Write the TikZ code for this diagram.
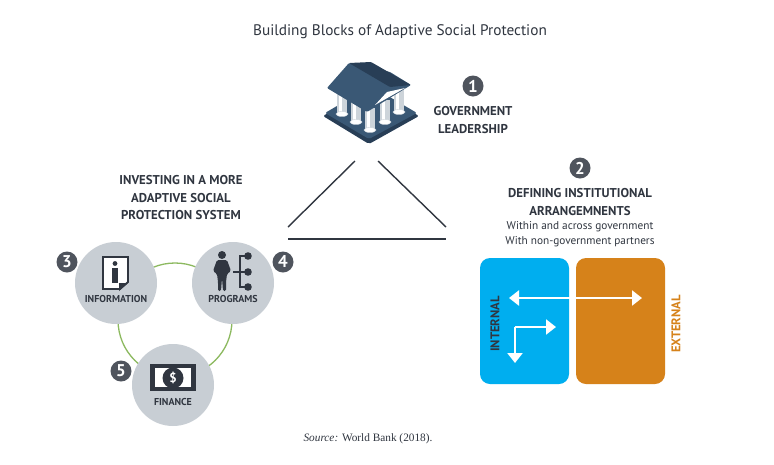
\documentclass[tikz,border=0pt]{standalone}
\usepackage{fontspec}
\setmainfont{Liberation Serif}
\newfontfamily\din{PT Sans}
\usetikzlibrary{arrows.meta,calc}
\definecolor{slate}{RGB}{48,54,64}
\definecolor{mist}{RGB}{200,206,212}
\definecolor{leaf}{RGB}{140,185,95}
\definecolor{sky}{RGB}{0,174,239}
\definecolor{rust}{RGB}{214,130,26}
\definecolor{roof}{RGB}{58,88,117}
\definecolor{roofdark}{RGB}{40,62,86}
\definecolor{pillar}{RGB}{205,212,218}
\tikzset{
  head/.style={font=\din\bfseries\fontsize{12.8}{17.5}\selectfont,text=slate,align=center,inner sep=0pt},
  subhead/.style={font=\din\fontsize{11.3}{15}\selectfont,text=slate,align=center,inner sep=0pt},
  badge/.style={circle,fill=slate!85!white,text=white,font=\din\bfseries\fontsize{17}{17}\selectfont,minimum size=21,inner sep=0pt},
  hub/.style={circle,fill=mist,minimum size=82,inner sep=0pt},
  hublabel/.style={font=\din\bfseries\fontsize{10}{10}\selectfont,text=slate,inner sep=0pt},
  panel/.style={rounded corners=10,minimum width=89,minimum height=126,inner sep=0pt},
  flow/.style={draw=white,line width=2.4,-{Triangle[length=10,width=15]}},
  rule/.style={draw=slate,line width=1.4},
}
\begin{document}
\begin{tikzpicture}[x=1pt,y=-1pt]
  \useasboundingbox[fill=white] (0,0) rectangle (774,464);
  \node[font=\din\fontsize{15.3}{17}\selectfont,text=slate,inner sep=0pt] (title) at (400,32) {Building Blocks of Adaptive Social Protection};

  % temple
  \fill[roofdark,rounded corners=2] (323,116) -- (369,144) -- (419,116) -- (371,88) -- cycle;
  \fill[roof,rounded corners=2] (325,113) -- (369,139) -- (417,113) -- (371,86) -- cycle;
  \foreach \px/\ptop/\pbot in {342/92/114,399/90/112,356/100/122,385/100/122,370/108/130}{
    \fill[pillar] (\px-5,\ptop) rectangle (\px+5,\pbot);
    \fill[white] (\px-3,\ptop) rectangle (\px,\pbot);
    \fill[white,draw=pillar] (\px,\pbot) ellipse (6 and 2.5);
  }
  \fill[roof,rounded corners=1] (349,63) -- (327,88) -- (367,112) -- (411,85) -- (390,72) -- cycle;
  \fill[roofdark,rounded corners=1] (349,63) -- (371,62) -- (411,85) -- (390,87) -- cycle;
  \fill[white] (375,105) -- (405,88) -- (387,92) -- cycle;

  \node[badge] (one) at (473,86) {1};
  \node[head] (gov) at (473,120) {GOVERNMENT\\LEADERSHIP};

  % triangle
  \coordinate (TL) at (355,161); \coordinate (BL) at (288,227);
  \coordinate (TR) at (378,161); \coordinate (BR) at (446,227);
  \coordinate (L) at (288,239); \coordinate (R) at (446,239);
  \draw[rule] (TL) -- (BL);
  \draw[rule] (TR) -- (BR);
  \draw[rule] (L) -- (R);

  \node[head] (invest) at (181,198) {INVESTING IN A MORE\\ADAPTIVE SOCIAL\\PROTECTION SYSTEM};
  \node[badge] (two) at (580,168) {2};
  \node[head] (define) at (580,202) {DEFINING INSTITUTIONAL\\ARRANGEMNENTS};
  \node[subhead] (within) at (580,234) {Within and across government\\With non-government partners};

  % building blocks
  \node[circle,draw=leaf,line width=1.3,minimum size=114,inner sep=0pt] (ring) at (175,320) {};
  \node[hub] (info) at (116,283) {};
  \node[hub] (prog) at (233,283) {};
  \node[hub] (fin) at (173,385) {};
  \node[badge] (three) at (67,262) {3};
  \node[badge] (four) at (283,262) {4};
  \node[badge] (five) at (121,371) {5};
  \node[hublabel] (infolabel) at (116,299) {INFORMATION};
  \node[hublabel] (proglabel) at (233,299) {PROGRAMS};
  \node[hublabel] (finlabel) at (173,402) {FINANCE};

  % information icon
  \draw[slate,line width=1.8,fill=white,line join=miter] (103,257) -- (128,257) -- (128,282) -- (120,289) -- (103,289) -- cycle;
  \fill[slate] (119,283) -- (128,283) -- (119,291) -- cycle;
  \fill[slate] (115,263.5) circle (2.4);
  \fill[slate] (112,268) -- (118,268) -- (118,283) -- (112,283) -- cycle;

  % programs icon
  \fill[slate] (222,255) circle (4);
  \fill[slate,rounded corners=1.5] (217,260) -- (227,260) -- (231,271) -- (227,274) -- (226,282) -- (226,291) -- (223,291) -- (222,278) -- (221,291) -- (218,291) -- (218,282) -- (217,274) -- (213,271) -- cycle;
  \draw[slate,line width=1.6] (248,256) -- (240,256) -- (240,287) -- (248,287);
  \draw[slate,line width=1.6] (233,272) -- (248,272);
  \foreach \ty in {256,272,287}{ \fill[slate] (248,\ty) circle (3.8); }

  % finance icon
  \fill[slate] (150,364) rectangle (196,391);
  \fill[white] (155,368) rectangle (191,387);
  \node[circle,fill=slate,text=white,font=\din\bfseries\fontsize{13}{13}\selectfont,minimum size=21,inner sep=0pt] (dollar) at (173,378) {\$};

  % arrangements
  \node[panel,fill=sky] (internal) at (524.5,321) {};
  \node[panel,fill=rust] (external) at (620.5,321) {};
  \node[font=\din\bfseries\fontsize{12.6}{12.6}\selectfont,text=slate,rotate=90,inner sep=0pt] (intlabel) at (495,324) {INTERNAL};
  \node[font=\din\bfseries\fontsize{12.6}{12.6}\selectfont,text=rust,rotate=90,inner sep=0pt] (extlabel) at (676,324) {EXTERNAL};
  \coordinate (wide a) at (509,298); \coordinate (wide b) at (642,298);
  \coordinate (corner) at (515,327); \coordinate (side) at (556,327); \coordinate (down) at (515,363);
  \draw[flow,{Triangle[length=10,width=15]}-{Triangle[length=10,width=15]}] (wide a) -- (wide b);
  \draw[flow] (corner) -- (side);
  \draw[flow] (corner) -- (down);

  \node[font=\fontsize{11.3}{12}\selectfont,text=slate,inner sep=0pt] (source) at (368,439) {\textit{Source:} World Bank (2018).};
\end{tikzpicture}
\end{document}
